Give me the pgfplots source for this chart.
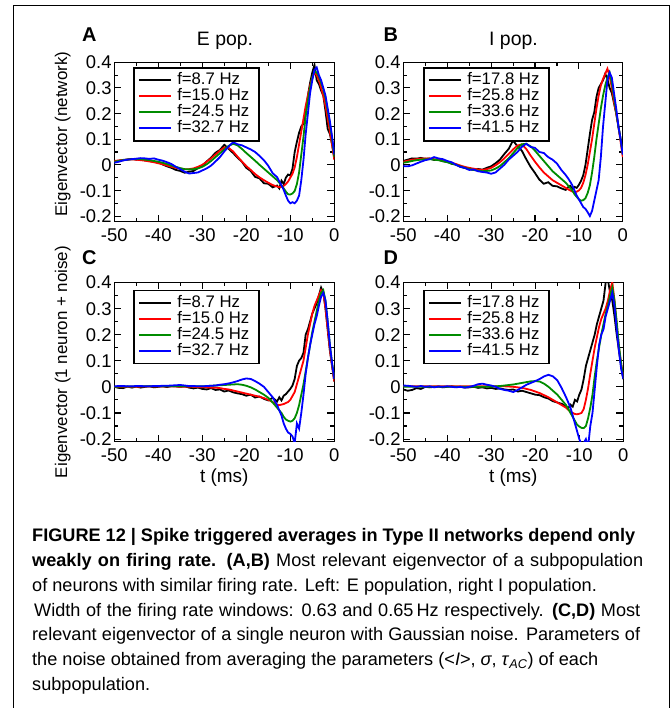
\documentclass[border=0pt]{standalone}
\usepackage{fontspec}
\setmainfont{Liberation Sans}
\usepackage{pgfplots}
\pgfplotsset{compat=1.18}
\usepackage{pgfplotstable}
\definecolor{cred}{RGB}{255,0,0}
\definecolor{cgreen}{RGB}{0,140,0}
\definecolor{cblue}{RGB}{0,0,255}

\pgfplotstableread{
t k r g b
-50 0.012 0.015 0.012 0.008
-49 0.016 0.017 0.015 0.012
-48 0.019 0.018 0.018 0.017
-47 0.021 0.020 0.020 0.020
-46 0.023 0.021 0.022 0.022
-45 0.020 0.020 0.023 0.024
-44 0.023 0.018 0.022 0.026
-43 0.017 0.016 0.020 0.025
-42 0.016 0.013 0.018 0.023
-41 0.011 0.010 0.015 0.025
-40 0.010 0.006 0.012 0.020
-39 0.001 0.002 0.008 0.016
-38 -0.006 -0.003 0.003 0.010
-37 -0.012 -0.008 -0.003 0.003
-36 -0.020 -0.012 -0.008 -0.008
-35 -0.024 -0.015 -0.013 -0.017
-34 -0.031 -0.017 -0.017 -0.027
-33 -0.027 -0.017 -0.018 -0.034
-32 -0.024 -0.014 -0.017 -0.032
-31 -0.013 -0.008 -0.014 -0.030
-30 -0.004 0.000 -0.008 -0.022
-29 0.013 0.012 0.002 -0.014
-28 0.028 0.025 0.015 -0.003
-27 0.047 0.040 0.030 0.013
-26 0.058 0.055 0.045 0.030
-25 0.078 0.068 0.060 0.052
-24 0.062 0.066 0.074 0.072
-23 0.046 0.052 0.082 0.088
-22 0.028 0.032 0.076 0.080
-21 0.012 0.013 0.062 0.076
-20 -0.012 -0.005 0.046 0.068
-19 -0.024 -0.020 0.031 0.060
-18 -0.047 -0.036 0.016 0.050
-17 -0.053 -0.049 0.000 0.035
-16 -0.072 -0.060 -0.015 0.018
-15 -0.074 -0.070 -0.030 -0.004
-14 -0.088 -0.079 -0.045 -0.033
-13 -0.081 -0.085 -0.060 -0.048
-12.5 -0.092 -0.087 -0.070 -0.065
-12 -0.062 -0.086 -0.080 -0.080
-11.5 -0.075 -0.082 -0.092 -0.098
-11 -0.050 -0.075 -0.105 -0.120
-10.5 -0.038 -0.065 -0.115 -0.140
-10 -0.042 -0.050 -0.116 -0.150
-9.5 -0.015 -0.035 -0.112 -0.146
-9 0.050 -0.010 -0.102 -0.150
-8.5 0.090 0.030 -0.075 -0.140
-8 0.125 0.080 -0.030 -0.120
-7.5 0.150 0.130 0.040 -0.060
-7 0.160 0.180 0.110 0.020
-6.5 0.200 0.230 0.190 0.120
-6 0.270 0.270 0.250 0.200
-5.5 0.320 0.310 0.300 0.280
-5 0.360 0.340 0.340 0.330
-4.5 0.390 0.360 0.365 0.370
-4 0.330 0.350 0.360 0.380
-3.5 0.315 0.330 0.345 0.350
-3 0.290 0.300 0.320 0.330
-2.5 0.270 0.270 0.295 0.300
-2 0.210 0.230 0.260 0.270
-1.5 0.140 0.180 0.210 0.220
-1 0.120 0.130 0.160 0.170
-0.5 0.080 0.075 0.100 0.110
0 0.030 0.020 0.030 0.040
}\tabA

\pgfplotstableread{
t k r g b
-50 0.015 0.012 0.008 -0.005
-49 0.020 0.016 0.011 -0.006
-48 0.025 0.020 0.015 -0.002
-47 0.024 0.022 0.018 0.005
-46 0.027 0.024 0.020 0.012
-45 0.023 0.025 0.022 0.018
-44 0.025 0.024 0.022 0.022
-43 0.019 0.022 0.020 0.030
-42 0.021 0.019 0.018 0.025
-41 0.014 0.015 0.014 0.022
-40 0.012 0.012 0.010 0.015
-39 0.004 0.008 0.005 0.010
-38 0.001 0.003 0.000 0.000
-37 -0.008 -0.003 -0.006 -0.008
-36 -0.012 -0.008 -0.012 -0.012
-35 -0.017 -0.012 -0.016 -0.020
-34 -0.020 -0.015 -0.020 -0.018
-33 -0.016 -0.018 -0.023 -0.025
-32 -0.019 -0.020 -0.025 -0.028
-31 -0.012 -0.017 -0.024 -0.030
-30 -0.006 -0.012 -0.022 -0.035
-29 0.006 -0.002 -0.015 -0.030
-28 0.020 0.010 -0.005 -0.015
-27 0.042 0.025 0.010 0.000
-26 0.062 0.042 0.025 0.020
-25 0.095 0.060 0.045 0.035
-24 0.072 0.075 0.065 0.050
-23 0.055 0.080 0.080 0.070
-22 0.022 0.062 0.082 0.082
-21 -0.008 0.036 0.072 0.070
-20 -0.032 0.012 0.055 0.066
-19 -0.058 -0.010 0.035 0.050
-18 -0.074 -0.030 0.015 0.046
-17 -0.068 -0.045 -0.005 0.030
-16 -0.082 -0.060 -0.025 0.020
-15 -0.084 -0.070 -0.040 0.005
-14 -0.092 -0.080 -0.055 -0.020
-13 -0.098 -0.090 -0.070 -0.040
-12.5 -0.088 -0.095 -0.080 -0.052
-12 -0.082 -0.100 -0.090 -0.065
-11.5 -0.094 -0.104 -0.100 -0.080
-11 -0.086 -0.107 -0.115 -0.100
-10.5 -0.090 -0.105 -0.125 -0.120
-10 -0.078 -0.100 -0.135 -0.135
-9.5 -0.062 -0.090 -0.140 -0.150
-9 -0.040 -0.070 -0.138 -0.165
-8.5 0.000 -0.040 -0.130 -0.172
-8 0.060 0.000 -0.110 -0.185
-7.5 0.120 0.050 -0.080 -0.200
-7 0.175 0.100 -0.030 -0.180
-6.5 0.205 0.160 0.030 -0.140
-6 0.265 0.220 0.100 -0.100
-5.5 0.300 0.270 0.160 -0.060
-5 0.315 0.310 0.220 0.030
-4.5 0.330 0.335 0.270 0.150
-4 0.355 0.355 0.310 0.240
-3.5 0.335 0.375 0.340 0.330
-3 0.300 0.345 0.360 0.360
-2.5 0.280 0.300 0.320 0.340
-2 0.240 0.245 0.265 0.280
-1.5 0.200 0.200 0.205 0.220
-1 0.150 0.150 0.150 0.150
-0.5 0.100 0.090 0.100 0.100
0 0.050 0.030 0.040 0.040
}\tabB

\pgfplotstableread{
t k r g b
-50 0.000 0.000 0.000 0.002
-49 -0.004 0.000 0.001 0.003
-48 -0.005 0.000 0.001 0.003
-47 0.001 0.000 0.001 0.002
-46 -0.003 0.000 0.001 0.002
-45 0.001 0.000 0.002 0.003
-44 -0.003 0.001 0.002 0.003
-43 0.000 0.001 0.002 0.002
-42 0.002 0.001 0.002 0.002
-41 -0.002 0.001 0.002 0.003
-40 0.000 0.001 0.002 0.003
-39 0.002 0.001 0.002 0.004
-38 -0.001 0.001 0.002 0.004
-37 0.003 0.001 0.002 0.005
-36 0.002 0.001 0.002 0.006
-35 0.000 0.000 0.002 0.007
-34 0.002 0.000 0.002 0.005
-33 -0.003 0.000 0.002 0.003
-32 -0.006 0.000 0.002 0.003
-31 -0.003 -0.001 0.002 0.002
-30 -0.008 -0.002 0.002 0.002
-29 -0.010 -0.002 0.003 0.003
-28 -0.005 -0.003 0.004 0.004
-27 -0.012 -0.003 0.005 0.005
-26 -0.010 -0.005 0.006 0.008
-25 -0.018 -0.008 0.007 0.010
-24 -0.014 -0.010 0.008 0.013
-23 -0.021 -0.014 0.009 0.017
-22 -0.025 -0.018 0.010 0.022
-21 -0.028 -0.022 0.008 0.028
-20 -0.034 -0.026 0.004 0.032
-19 -0.030 -0.030 -0.002 0.030
-18 -0.041 -0.034 -0.010 0.022
-17 -0.037 -0.038 -0.020 0.012
-16 -0.046 -0.043 -0.030 0.000
-15 -0.052 -0.050 -0.042 -0.020
-14 -0.042 -0.058 -0.060 -0.040
-13 -0.056 -0.068 -0.080 -0.070
-12.5 -0.040 -0.070 -0.090 -0.090
-12 -0.052 -0.068 -0.100 -0.110
-11.5 -0.034 -0.066 -0.115 -0.140
-11 -0.028 -0.062 -0.125 -0.160
-10.5 -0.018 -0.058 -0.130 -0.175
-10 -0.008 -0.050 -0.133 -0.180
-9.5 0.005 -0.035 -0.130 -0.190
-9 0.030 -0.020 -0.120 -0.215
-8.5 0.080 0.010 -0.100 -0.140
-8 0.100 0.040 -0.070 -0.160
-7.5 0.110 0.070 -0.030 -0.100
-7 0.130 0.100 0.010 -0.030
-6.5 0.200 0.150 0.060 0.050
-6 0.220 0.200 0.110 0.110
-5.5 0.250 0.240 0.160 0.160
-5 0.280 0.280 0.210 0.200
-4.5 0.300 0.310 0.250 0.240
-4 0.320 0.330 0.290 0.270
-3.5 0.350 0.350 0.330 0.310
-3 0.380 0.370 0.360 0.345
-2.5 0.360 0.360 0.370 0.360
-2 0.300 0.300 0.330 0.330
-1.5 0.220 0.220 0.250 0.250
-1 0.140 0.140 0.160 0.160
-0.5 0.080 0.080 0.090 0.090
0 0.020 0.020 0.030 0.030
}\tabC

\pgfplotstableread{
t k r g b
-50 -0.010 0.002 0.000 0.005
-49 -0.015 0.002 0.000 0.004
-48 -0.012 0.002 0.000 0.002
-47 -0.005 0.002 0.000 0.000
-46 -0.008 0.002 0.000 0.003
-45 0.000 0.002 0.000 0.000
-44 -0.002 0.002 0.000 0.002
-43 0.000 0.002 0.000 -0.002
-42 0.001 0.002 0.000 0.001
-41 -0.002 0.002 0.000 0.000
-40 0.000 0.002 0.000 0.002
-39 0.002 0.002 0.000 0.000
-38 -0.001 0.002 0.000 -0.002
-37 0.000 0.002 0.000 0.000
-36 -0.003 0.002 0.000 -0.003
-35 -0.002 0.002 0.000 0.000
-34 0.000 0.002 0.000 0.004
-33 -0.004 0.002 0.000 0.010
-32 -0.002 0.002 0.000 0.012
-31 -0.006 0.002 0.000 0.008
-30 -0.004 0.002 0.000 0.005
-29 -0.008 0.002 0.002 0.000
-28 -0.006 0.002 0.003 -0.008
-27 -0.010 0.002 0.005 -0.012
-26 -0.012 0.001 0.007 -0.015
-25 -0.010 0.000 0.009 -0.020
-24 -0.018 -0.002 0.012 -0.012
-23 -0.015 -0.004 0.015 -0.002
-22 -0.020 -0.008 0.018 0.008
-21 -0.025 -0.012 0.021 0.015
-20 -0.030 -0.018 0.022 0.022
-19 -0.032 -0.024 0.020 0.030
-18 -0.040 -0.032 0.012 0.040
-17 -0.045 -0.040 0.000 0.046
-16 -0.055 -0.050 -0.015 0.040
-15 -0.060 -0.060 -0.030 0.025
-14 -0.065 -0.070 -0.050 -0.005
-13 -0.075 -0.080 -0.070 -0.040
-12.5 -0.082 -0.088 -0.085 -0.060
-12 -0.068 -0.095 -0.100 -0.080
-11.5 -0.076 -0.100 -0.115 -0.110
-11 -0.050 -0.104 -0.130 -0.140
-10.5 -0.056 -0.105 -0.145 -0.170
-10 -0.030 -0.103 -0.152 -0.200
-9.5 -0.010 -0.100 -0.157 -0.220
-9 0.030 -0.085 -0.158 -0.215
-8.5 0.080 -0.050 -0.150 -0.200
-8 0.110 -0.005 -0.120 -0.230
-7.5 0.140 0.050 -0.080 -0.150
-7 0.170 0.100 -0.030 -0.100
-6.5 0.200 0.150 0.040 -0.010
-6 0.240 0.190 0.100 0.080
-5.5 0.270 0.230 0.150 0.160
-5 0.300 0.260 0.200 0.200
-4.5 0.330 0.280 0.240 0.220
-4 0.400 0.300 0.280 0.270
-3.5 0.410 0.330 0.310 0.300
-3 0.360 0.370 0.350 0.330
-2.5 0.330 0.400 0.380 0.360
-2 0.270 0.330 0.330 0.310
-1.5 0.200 0.240 0.250 0.220
-1 0.140 0.150 0.160 0.140
-0.5 0.080 0.090 0.090 0.070
0 0.030 0.030 0.030 0.030
}\tabD

\pgfplotsset{
  panel/.style={
    scale only axis, width=220bp, height=159.4bp,
    xmin=-50, xmax=0, ymin=-0.222, ymax=0.4,
    xtick={-50,-40,-30,-20,-10,0},
    ytick={-0.2,-0.1,0,0.1,0.2,0.3,0.4},
    minor x tick num=1, minor y tick num=1,
    tick align=inside,
    major tick length=7bp, minor tick length=4bp,
    axis line style={line width=1.3bp},
    tick style={line width=1.1bp, black},
    /pgf/number format/assume math mode=true,
    tick label style={font=\fontsize{18.5}{18.5}\selectfont},
    yticklabel style={/pgf/number format/fixed, inner xsep=2.5bp, inner ysep=0bp,
      text height=13.3bp, text depth=0bp},
    xticklabel style={inner xsep=1bp, inner ysep=6bp, text height=13.3bp, text depth=0bp},
    legend cell align=left,
    legend style={anchor=north west, draw=black, line width=1.5bp,
      font=\fontsize{16.8}{16.8}\selectfont,
      inner xsep=4bp, inner ysep=4.5bp, row sep=0bp,
      nodes={font=\fontsize{16.8}{16.8}\selectfont, inner xsep=5.5bp, inner ysep=1bp,
        text height=11.5bp, text depth=2.5bp}},
    legend image code/.code={\draw[#1, line width=2bp] (0bp,0bp) -- (32bp,0bp);},
    every axis plot/.append style={line width=1.8bp, no markers},
    ylabel style={at={(axis description cs:-0.215,0.5)}, anchor=base,
      font=\fontsize{17}{17}\selectfont},
    xlabel style={at={(axis description cs:0.5,-0.253)}, anchor=base,
      font=\fontsize{19}{19}\selectfont},
  }
}

\begin{document}
\begin{tikzpicture}
\path[use as bounding box] (0bp,0bp) rectangle (671bp,708bp);
\draw[line width=1bp] (13.3bp,0bp) -- (13.3bp,702bp) -- (669.3bp,702bp) -- (669.3bp,0bp);

% Panel A
\begin{axis}[panel, at={(114.3bp,486.3bp)}, anchor=south west,
  ylabel={Eigenvector (network)},
  ylabel style={at={(axis description cs:-0.215,0.55)}},
  legend style={at={(0.085,0.97)}}]
\addplot[black] table[x=t,y=k] {\tabA};
\addplot[cred] table[x=t,y=r] {\tabA};
\addplot[cgreen] table[x=t,y=g] {\tabA};
\addplot[cblue] table[x=t,y=b] {\tabA};
\legend{f=8.7 Hz, f=15.0 Hz, f=24.5 Hz, f=32.7 Hz}
\end{axis}

% Panel B
\begin{axis}[panel, at={(403.3bp,486.3bp)}, anchor=south west, width=219.5bp,
  legend style={at={(0.09,0.97)}}]
\addplot[black] table[x=t,y=k] {\tabB};
\addplot[cred] table[x=t,y=r] {\tabB};
\addplot[cgreen] table[x=t,y=g] {\tabB};
\addplot[cblue] table[x=t,y=b] {\tabB};
\legend{f=17.8 Hz, f=25.8 Hz, f=33.6 Hz, f=41.5 Hz}
\end{axis}

% Panel C
\begin{axis}[panel, at={(114.3bp,266.3bp)}, anchor=south west, ymin=-0.21,
  ylabel={Eigenvector (1 neuron + noise)}, xlabel={t (ms)},
  legend style={at={(0.085,0.952)}}]
\addplot[black] table[x=t,y=k] {\tabC};
\addplot[cred] table[x=t,y=r] {\tabC};
\addplot[cgreen] table[x=t,y=g] {\tabC};
\addplot[cblue] table[x=t,y=b] {\tabC};
\legend{f=8.7 Hz, f=15.0 Hz, f=24.5 Hz, f=32.7 Hz}
\end{axis}

% Panel D
\begin{axis}[panel, at={(403.3bp,266.3bp)}, anchor=south west, ymin=-0.21,
  xlabel={t (ms)},
  legend style={at={(0.09,0.952)}}]
\addplot[black] table[x=t,y=k] {\tabD};
\addplot[cred] table[x=t,y=r] {\tabD};
\addplot[cgreen] table[x=t,y=g] {\tabD};
\addplot[cblue] table[x=t,y=b] {\tabD};
\legend{f=17.8 Hz, f=25.8 Hz, f=33.6 Hz, f=41.5 Hz}
\end{axis}

% panel letters and titles
\node[anchor=base west, inner sep=0pt, font=\fontsize{20}{20}\selectfont\bfseries] at (82bp,666.3bp) {A};
\node[anchor=base west, inner sep=0pt, font=\fontsize{20}{20}\selectfont\bfseries] at (383.3bp,666.3bp) {B};
\node[anchor=base west, inner sep=0pt, font=\fontsize{20}{20}\selectfont\bfseries] at (82bp,443bp) {C};
\node[anchor=base west, inner sep=0pt, font=\fontsize{20}{20}\selectfont\bfseries] at (383.3bp,443bp) {D};
\node[anchor=base, inner sep=0pt, font=\fontsize{19.5}{19.5}\selectfont] at (225bp,662bp) {E pop.};
\node[anchor=base, inner sep=0pt, font=\fontsize{19.5}{19.5}\selectfont] at (513.5bp,662bp) {I pop.};

% caption
\begin{scope}[every node/.style={anchor=base west, inner sep=0pt, font=\fontsize{18.2}{18.2}\selectfont}]
\node at (32bp,166bp) {\makebox[603bp][s]{\textbf{FIGURE 12 | Spike triggered averages in Type II networks depend only}}};
\node at (32bp,141.3bp) {\makebox[611bp][s]{\textbf{weakly on firing rate. (A,B)} Most relevant eigenvector of a subpopulation}};
\node at (32bp,116.6bp) {of neurons with similar firing rate. Left: E population, right I population.};
\node at (34bp,91.9bp) {\makebox[606bp][s]{Width of the firing rate windows: 0.63 and 0.65\,Hz respectively. \textbf{(C,D)} Most}};
\node at (32bp,67.2bp) {\makebox[608bp][s]{relevant eigenvector of a single neuron with Gaussian noise. Parameters of}};
\node at (32bp,42.5bp) {the noise obtained from averaging the parameters (<\textit{I}>, \textit{σ}, \textit{τ}\textsubscript{\textit{AC}}) of each};
\node at (32bp,17.8bp) {subpopulation.};
\end{scope}
\end{tikzpicture}
\end{document}
